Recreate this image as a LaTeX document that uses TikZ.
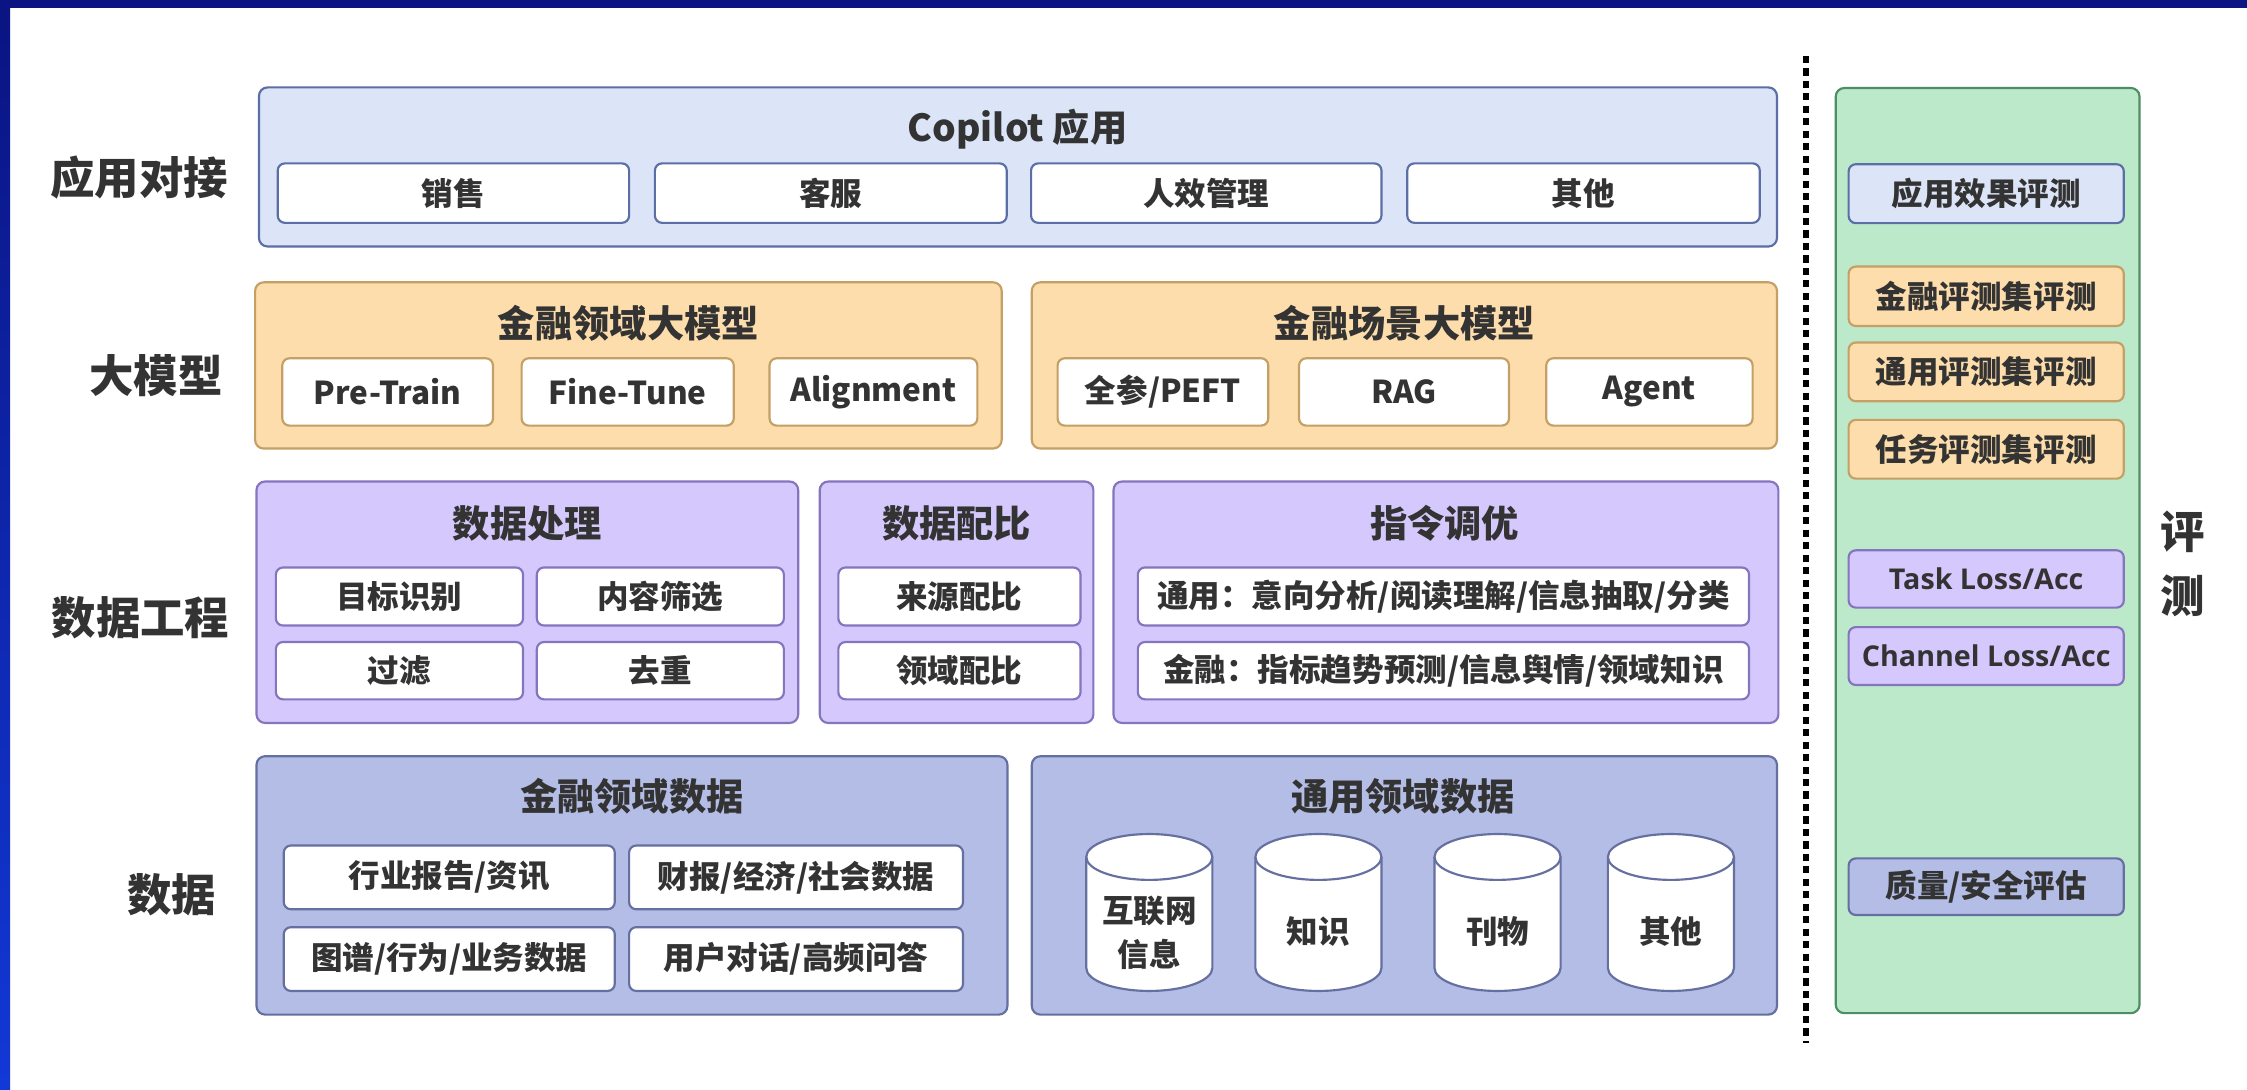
\documentclass[tikz,border=0pt]{standalone}
\usepackage{fontspec}
\setmainfont{Noto Sans CJK SC}
\newfontfamily\latf{Open Sans}
\definecolor{txt}{HTML}{333333}
\definecolor{navy}{HTML}{0A1482}
\definecolor{brightblue}{HTML}{1238D6}
\definecolor{appF}{HTML}{DCE5F8}\definecolor{appD}{HTML}{5B6FA6}
\definecolor{orF}{HTML}{FDDDAB}\definecolor{orD}{HTML}{C49F66}
\definecolor{puF}{HTML}{D5C8FC}\definecolor{puD}{HTML}{8574BE}
\definecolor{daF}{HTML}{B3BDE6}\definecolor{daD}{HTML}{656FA0}
\definecolor{grF}{HTML}{BDE9CB}\definecolor{grD}{HTML}{4E8E64}
\newcommand\fsub{\bfseries\fontsize{22}{26}\selectfont}
\newcommand\ftitle{\bfseries\fontsize{26}{30}\selectfont}
\newcommand\frow{\bfseries\fontsize{31}{36}\selectfont}
\newcommand\bx[7]{\node[#2, minimum width={(#5)-(#3)}, minimum height={(#6)-(#4)}] (#1) at ({((#3)+(#5))/2},{((#4)+(#6))/2}) {#7};}
\newcommand\cyl[2]{%
  \path[draw=daD, fill=white, line width=1.5pt] ({#1-44},598) -- ({#1-44},675.5)
    arc[start angle=180, end angle=0, x radius=44, y radius=16] -- ({#1+44},598)
    arc[start angle=0, end angle=-180, x radius=44, y radius=16] -- cycle;
  \draw[daD, line width=1.5pt] ({#1-44},598) arc[start angle=180, end angle=0, x radius=44, y radius=16];}
\tikzset{
  outer/.style={draw, line width=1.5pt, rounded corners=6pt, inner sep=0pt},
  inner/.style={draw, fill=white, line width=1.5pt, rounded corners=5pt, inner sep=0pt, text=txt, font=\fsub},
  ttl/.style={inner sep=0pt, text=txt, font=\ftitle},
  rowlab/.style={inner sep=0pt, text=txt, font=\frow},
  latin/.style={font=\latf\bfseries\fontsize{20}{24}\selectfont},
}
\begin{document}
\begin{tikzpicture}[x=1pt, y=-1pt]
\useasboundingbox (0,0) rectangle (1568,760);
\fill[white] (0,0) rectangle (1568,760);
\fill[navy] (0,0) rectangle (1568,5.4);
\shade[top color=navy, bottom color=brightblue] (0,0) rectangle (7,760);

% row labels
\node[rowlab] (l1) at (97,124) {应用对接};
\node[rowlab] (l2) at (109,262) {大模型};
\node[rowlab] (l3) at (98,431) {数据工程};
\node[rowlab] (l4) at (120,624.5) {数据};

% application row
\bx{app}{outer, draw=appD, fill=appF}{180.7}{61}{1240}{172}{}
\node[ttl] (appT) at (710,90) {Copilot 应用};
\bx{a1}{inner, draw=appD}{193.8}{114}{439}{155.5}{销售}
\bx{a2}{inner, draw=appD}{457}{114}{702.5}{155.5}{客服}
\bx{a3}{inner, draw=appD}{719.5}{114}{964}{155.5}{人效管理}
\bx{a4}{inner, draw=appD}{982}{114}{1228}{155.5}{其他}

% model row
\bx{m1}{outer, draw=orD, fill=orF}{178}{197}{699}{313}{}
\bx{m2}{outer, draw=orD, fill=orF}{720}{197}{1240}{313}{}
\node[ttl] (m1T) at (438.5,225.5) {金融领域大模型};
\node[ttl] (m2T) at (980,225.5) {金融场景大模型};
\bx{m11}{inner, draw=orD}{197}{250}{344}{297}{Pre-Train}
\bx{m12}{inner, draw=orD}{364}{250}{512}{297}{Fine-Tune}
\bx{m13}{inner, draw=orD}{537}{250}{682}{297}{Alignment}
\bx{m21}{inner, draw=orD}{738}{250}{885}{297}{全参/PEFT}
\bx{m22}{inner, draw=orD}{906.5}{250}{1053}{297}{RAG}
\bx{m23}{inner, draw=orD}{1079}{250}{1223}{297}{Agent}

% data engineering row
\bx{e1}{outer, draw=puD, fill=puF}{179}{336}{557}{504.5}{}
\bx{e2}{outer, draw=puD, fill=puF}{572}{336}{763}{504.5}{}
\bx{e3}{outer, draw=puD, fill=puF}{777}{336}{1241}{504.5}{}
\node[ttl] (e1T) at (368,365) {数据处理};
\node[ttl] (e2T) at (667.5,365) {数据配比};
\node[ttl] (e3T) at (1008,365) {指令调优};
\bx{e11}{inner, draw=puD}{192.5}{396}{365}{436.5}{目标识别}
\bx{e12}{inner, draw=puD}{374.6}{396}{547}{436.5}{内容筛选}
\bx{e13}{inner, draw=puD}{192.5}{448}{365}{488}{过滤}
\bx{e14}{inner, draw=puD}{374.6}{448}{547}{488}{去重}
\bx{e21}{inner, draw=puD}{585}{396}{754}{436.5}{来源配比}
\bx{e22}{inner, draw=puD}{585}{448}{754}{488}{领域配比}
\bx{e31}{inner, draw=puD}{794}{396}{1220.5}{436.5}{通用：意向分析/阅读理解/信息抽取/分类}
\bx{e32}{inner, draw=puD}{794}{448}{1220.5}{488}{金融：指标趋势预测/信息舆情/领域知识}

% data row
\bx{d1}{outer, draw=daD, fill=daF}{179}{527.7}{703}{708}{}
\bx{d2}{outer, draw=daD, fill=daF}{720}{527.7}{1240}{708}{}
\node[ttl] (d1T) at (441,556) {金融领域数据};
\node[ttl] (d2T) at (979,556) {通用领域数据};
\bx{d11}{inner, draw=daD}{198}{590}{429}{634.5}{行业报告/资讯}
\bx{d12}{inner, draw=daD}{439}{590}{672}{634.5}{财报/经济/社会数据}
\bx{d13}{inner, draw=daD}{198}{647}{429}{691.5}{图谱/行为/业务数据}
\bx{d14}{inner, draw=daD}{439}{647}{672}{691.5}{用户对话/高频问答}
\cyl{802}{c1}
\cyl{920}{c2}
\cyl{1045}{c3}
\cyl{1166}{c4}
\node[inner sep=0pt, text=txt, align=center, font=\bfseries\fontsize{22}{31}\selectfont] (c1t) at (802,651) {互联网\\信息};
\node[inner sep=0pt, text=txt, font=\fsub] (c2t) at (920,650) {知识};
\node[inner sep=0pt, text=txt, font=\fsub] (c3t) at (1045,650) {刊物};
\node[inner sep=0pt, text=txt, font=\fsub] (c4t) at (1166,650) {其他};

% separator
\coordinate (sepA) at (1260,39);
\coordinate (sepB) at (1260,728);
\draw[black, line width=4.3pt, dash pattern=on 5pt off 3.7pt] (sepA) -- (sepB);

% evaluation column
\bx{g}{outer, draw=grD, fill=grF}{1281}{61.4}{1493}{707}{}
\bx{g1}{inner, draw=appD, fill=appF}{1290}{114.6}{1482}{155.7}{应用效果评测}
\bx{g2}{inner, draw=orD, fill=orF}{1290}{186}{1482}{227.5}{金融评测集评测}
\bx{g3}{inner, draw=orD, fill=orF}{1290}{239}{1482}{280}{通用评测集评测}
\bx{g4}{inner, draw=orD, fill=orF}{1290}{293}{1482}{334}{任务评测集评测}
\bx{g5}{inner, draw=puD, fill=puF, latin}{1290}{384}{1482}{424}{Task Loss/Acc}
\bx{g6}{inner, draw=puD, fill=puF, latin}{1290}{437.6}{1482}{478}{Channel Loss/Acc}
\bx{g7}{inner, draw=daD, fill=daF}{1290}{599}{1482}{638.5}{质量/安全评估}
\node[rowlab] (ev1) at (1523,371) {评};
\node[rowlab] (ev2) at (1523,416) {测};
\end{tikzpicture}
\end{document}
